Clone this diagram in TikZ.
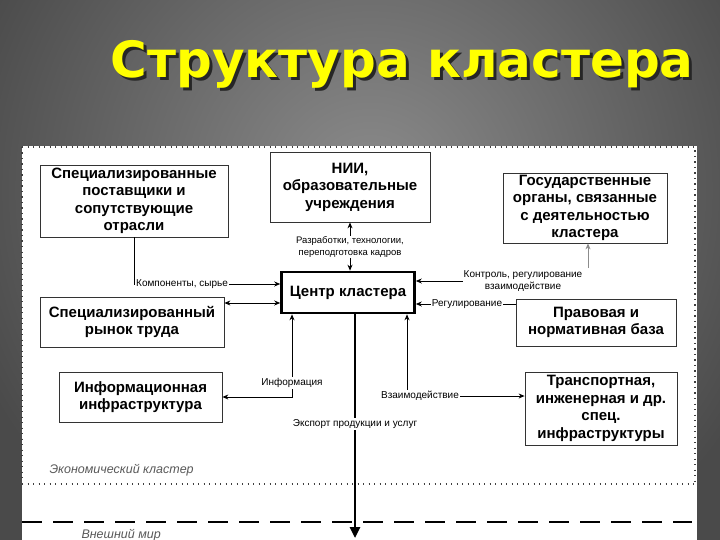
\documentclass[tikz,border=0pt]{standalone}
\usepackage{fontspec}
\setmainfont{Liberation Sans}
\newfontfamily\titlefont{DejaVu Sans}
\usetikzlibrary{arrows.meta}
\definecolor{bgdark}{HTML}{4A4A4A}
\definecolor{bglight}{HTML}{8C8C8C}
\definecolor{titley}{HTML}{FFFF00}
\definecolor{boxline}{HTML}{333333}
\begin{document}
\begin{tikzpicture}[x=1pt,y=-1pt,
  box/.style={draw=boxline, line width=0.8pt, fill=white, align=center,
    font=\bfseries\fontsize{15}{17.5}\selectfont, inner sep=0.5pt},
  centerbox/.style={box, line width=2.6pt, draw=black},
  conn/.style={line width=0.9pt, -{Stealth[length=6pt,width=5pt]}},
  conntwo/.style={line width=0.9pt, {Stealth[length=6pt,width=5pt]}-{Stealth[length=6pt,width=5pt]}},
  lab/.style={fill=white, inner sep=1pt, font=\fontsize{10}{12}\selectfont, align=center},
  dotline/.style={line width=1.3pt, draw=black!75, dash pattern=on 1.3pt off 4.2pt},
  zone/.style={font=\itshape\fontsize{12.5}{14}\selectfont, text=black!65, anchor=west}
]
\useasboundingbox (0,0) rectangle (720,540);
% background
\fill[bgdark] (0,0) rectangle (720,540);
\begin{scope}
  \clip (0,0) rectangle (720,540);
  \shade[inner color=bglight, outer color=bgdark] (370,190) circle[radius=430];
\end{scope}
% title with shadow
\node[font=\titlefont\bfseries\fontsize{50}{60}\selectfont, text=titley] (title) at (402,66)
  {\makebox[0pt][l]{\hspace{3pt}\raisebox{-3pt}{\textcolor{black!85}{Структура кластера}}}Структура кластера};
% white panel
\fill[white] (22,146) rectangle (697,540);
\draw[dotline] (22,147) -- (695,147) -- (695,484);
\draw[dotline] (22,147) -- (22,478);
\draw[dotline] (22,484) -- (695,484);
\draw[line width=2.5pt, dash pattern=on 20pt off 11pt] (22,522) -- (692,522);
\node[zone] (econ) at (46,470) {Экономический кластер};
\node[zone] (world) at (78,535) {Внешний мир};
% boxes
\node[box, minimum width=188pt, minimum height=72pt] (supp) at (134,201) {Специализированные\\поставщики и\\сопутствующие\\отрасли};
\node[box, minimum width=160pt, minimum height=70pt] (nii) at (350,187) {НИИ,\\образовательные\\учреждения};
\node[box, minimum width=164pt, minimum height=70pt] (gov) at (585,208) {Государственные\\органы, связанные\\с деятельностью\\кластера};
\node[centerbox, minimum width=133pt, minimum height=41pt] (center) at (348,292.5) {Центр кластера};
\node[box, minimum width=184pt, minimum height=50pt] (labour) at (132,322) {Специализированный\\рынок труда};
\node[box, minimum width=160pt, minimum height=47pt] (law) at (596,322.5) {Правовая и\\нормативная база};
\node[box, minimum width=163pt, minimum height=50pt] (info) at (140.5,397) {Информационная\\инфраструктура};
\node[box, minimum width=152pt, minimum height=73pt] (trans) at (601,408.5) {Транспортная,\\инженерная и др.\\спец.\\инфраструктуры};
% helper coordinates
\coordinate (kc) at (134,284);
\coordinate (lb) at (250,303);
\coordinate (rg) at (467,304);
\coordinate (gc) at (588,268);
\coordinate (inf) at (292,397);
\coordinate (vz) at (407,396);
\coordinate (ex) at (355,538);
% connectors
\draw[conn] (supp.south) -- (kc) -- (kc -| center.west);
\draw[conntwo] (labour.east |- lb) -- (center.west |- lb);
\draw[conntwo] (nii.south) -- (nii.south |- center.north);
\draw[conn] (law.west |- rg) -- (center.east |- rg);
\draw[conn, draw=black!45] (gc) -- (gc |- gov.south);
\draw[conntwo] (center.south -| inf) -- (inf) -- (inf -| info.east);
\draw[conntwo] (center.south -| vz) -- (vz) -- (vz -| trans.west);
\draw[line width=2.6pt, -{Triangle[length=11pt,width=10pt]}] (center.south -| ex) -- (ex);
% labels
\node[lab, anchor=west] (lkomp) at (135,284) {Компоненты, сырье};
\node[lab, font=\fontsize{9.5}{12}\selectfont] (lnii) at (350,247) {Разработки, технологии,\\переподготовка кадров};
\node[lab] (lctrl) at (523,281) {Контроль, регулирование\\взаимодействие};
\draw[conn] (lctrl.west) -- (lctrl.west -| center.east);
\node[lab] (lreg) at (rg) {Регулирование};
\node[lab] (linf) at (292,383) {Информация};
\node[lab] (lvz) at (420,396) {Взаимодействие};
\node[lab] (lex) at (355,424) {Экспорт продукции и услуг};
\end{tikzpicture}
\end{document}
